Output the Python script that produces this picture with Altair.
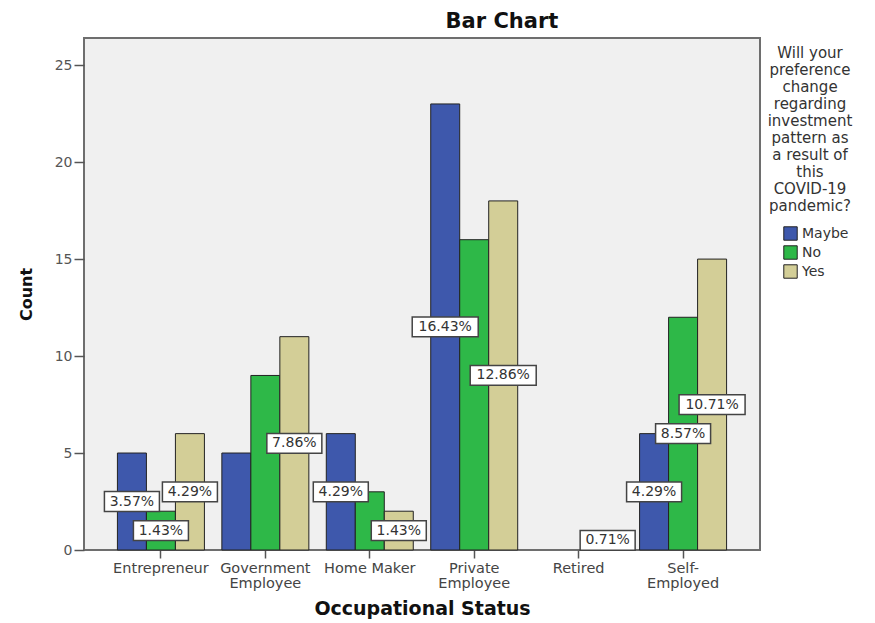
import altair as alt
import pandas as pd

occupations = ["Entrepreneur", "Government Employee", "Home Maker",
               "Private Employee", "Retired", "Self-Employed"]
responses = ["Maybe", "No", "Yes"]
maybe_counts = [5, 5, 6, 23, 0, 6]
no_counts = [2, 9, 3, 16, 0, 12]
yes_counts = [6, 11, 2, 18, 1, 15]
# percentage labels shown on the chart ("" = label hidden in the original)
maybe_labels = ["3.57%", "", "4.29%", "16.43%", "", "4.29%"]
no_labels = ["1.43%", "", "", "", "", "8.57%"]
yes_labels = ["4.29%", "7.86%", "1.43%", "12.86%", "0.71%", "10.71%"]
colors = ["#3e58ac", "#2eb848", "#d3ce97"]
x_label_lines = {
    "Government Employee": ["Government", "Employee"],
    "Private Employee": ["Private", "Employee"],
    "Self-Employed": ["Self-", "Employed"],
}
legend_title = ["Will your", "preference", "change", "regarding", "investment",
                "pattern as", "a result of", "this", "COVID-19", "pandemic?"]

rows = []
for resp, counts, labels in zip(responses, [maybe_counts, no_counts, yes_counts],
                                [maybe_labels, no_labels, yes_labels]):
    for occ, c, lab in zip(occupations, counts, labels):
        if c > 0:
            rows.append({"occ": occ, "response": resp, "count": c, "label": lab,
                         "box": "long" if len(lab) > 5 else "short"})
df = pd.DataFrame(rows)

FONT = "DejaVu Sans"

label_expr = ""
for k, v in x_label_lines.items():
    label_expr += "datum.label == '%s' ? %s : " % (k, "[" + ",".join("'%s'" % s for s in v) + "]")
label_expr += "datum.label"

x_enc = alt.X("occ:N", sort=occupations, title="Occupational Status",
              scale=alt.Scale(paddingInner=0.167, paddingOuter=0.32),
              axis=alt.Axis(labelAngle=0, labelExpr=label_expr, labelFont=FONT,
                            labelFontSize=14.5, labelColor="#444", labelLineHeight=15,
                            tickSize=8, tickColor="#555", tickWidth=1.5, domain=False,
                            labelPadding=3, titleFont=FONT, titleFontSize=19,
                            titleFontWeight="bold", titleColor="#111", titlePadding=10))
xoff_enc = alt.XOffset("response:N", scale=alt.Scale(domain=responses))

base = alt.Chart(df)

bars = base.mark_bar(stroke="#222", strokeWidth=1).encode(
    x=x_enc,
    xOffset=xoff_enc,
    y=alt.Y("count:Q", title="Count",
            scale=alt.Scale(domain=[0, 26.4], nice=False),
            axis=alt.Axis(values=[0, 5, 10, 15, 20, 25], grid=False, domain=False,
                          tickSize=10, tickColor="#555", tickWidth=1.5,
                          labelFont=FONT, labelFontSize=14, labelColor="#555",
                          labelPadding=2, titleFont=FONT, titleFontSize=16,
                          titleFontWeight="bold", titleColor="#111", titlePadding=20)),
    color=alt.Color("response:N", scale=alt.Scale(domain=responses, range=colors),
                    legend=alt.Legend(title=legend_title, orient="none",
                                      legendX=684, legendY=8,
                                      titleFont=FONT, titleFontSize=15,
                                      titleFontWeight="normal", titleColor="#333",
                                      titleLineHeight=17, titleAlign="center",
                                      titleAnchor="middle", titleLimit=300,
                                      titlePadding=12,
                                      symbolType="square", symbolSize=180,
                                      symbolStrokeColor="#222", symbolStrokeWidth=1,
                                      symbolOffset=12,
                                      labelFont=FONT, labelFontSize=14,
                                      labelColor="#333", rowPadding=0)),
)

short_box = "M-1,-0.36H1V0.36H-1Z"
long_box = "M-1.2,-0.36H1.2V0.36H-1.2Z"

lab = base.transform_filter("datum.label != ''").transform_calculate(mid="datum.count / 2")

boxes = lab.mark_point(filled=True, fill="white", stroke="#444", strokeWidth=1.5,
                       opacity=1, size=3025).encode(
    x=alt.X("occ:N", sort=occupations),
    xOffset=xoff_enc,
    y=alt.Y("mid:Q"),
    shape=alt.Shape("box:N", scale=alt.Scale(domain=["short", "long"],
                                             range=[short_box, long_box]),
                    legend=None),
)

texts = lab.mark_text(font=FONT, fontSize=14, color="#333", align="center",
                      baseline="middle").encode(
    x=alt.X("occ:N", sort=occupations),
    xOffset=xoff_enc,
    y=alt.Y("mid:Q"),
    text="label:N",
)

chart = alt.layer(bars, boxes, texts).properties(
    width=676, height=512,
    background="white",
    title=alt.Title("Bar Chart", font=FONT, fontSize=21, fontWeight="bold",
                    color="#111", anchor="middle", dx=80, offset=6),
    padding={"left": 84, "top": 38, "right": 115, "bottom": 73},
    autosize=alt.AutoSizeParams(type="none"),
).configure_view(
    fill="#f0f0f0", stroke="#6e6e6e", strokeWidth=2
)

chart.save("out.html", embed_options={"renderer": "svg", "actions": False})
